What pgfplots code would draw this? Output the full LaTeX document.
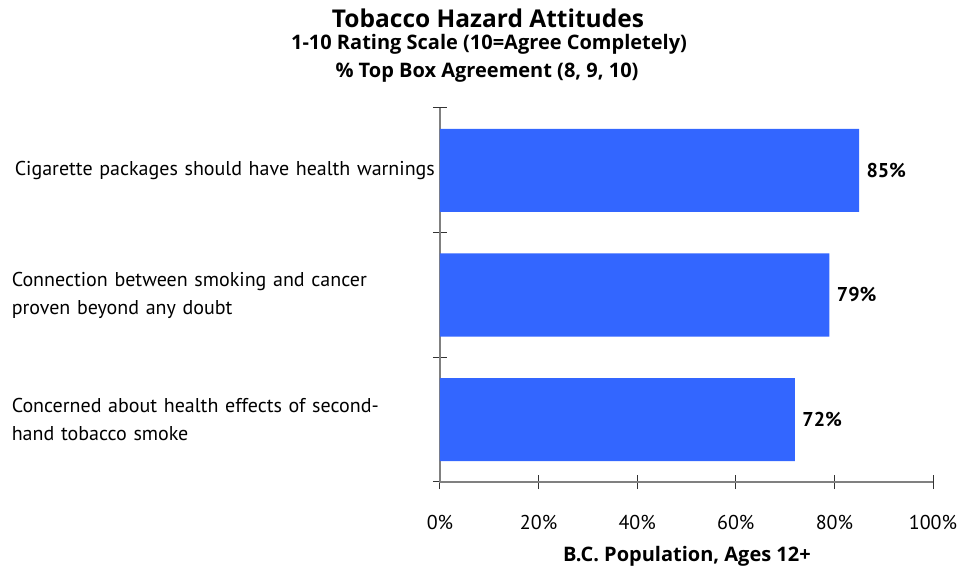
\documentclass[border=0pt]{standalone}
\usepackage{pgfplots}
\pgfplotsset{compat=1.18}
\usepackage{fontspec}
\setmainfont{PT Sans}
\newfontfamily\headfont{Open Sans}
\definecolor{barblue}{HTML}{3366FF}
\definecolor{axisgray}{HTML}{808080}

\begin{document}
\begin{tikzpicture}
\useasboundingbox (-440bp,-87bp) rectangle (521bp,482bp);
\begin{axis}[
  at={(0,0)}, anchor=south west,
  scale only axis,
  width=493bp, height=374bp,
  xmin=0, xmax=100,
  ymin=-0.5, ymax=2.5,
  axis line style={draw=none},
  xtick pos=left, ytick pos=left,
  xtick={0,20,40,60,80,100},
  xticklabels={0\%,20\%,40\%,60\%,80\%,100\%},
  xticklabel style={anchor=base, yshift=-33bp, font=\fontsize{20bp}{24bp}\selectfont},
  % ticks straddle the axis lines
  tick align=outside,
  major tick length=14bp,
  x tick style={draw=black!80, line width=1bp, yshift=7bp},
  y tick style={draw=black!80, line width=1bp, xshift=7bp},
  % category boundaries carry the y ticks
  ytick={-0.5,0.5,1.5,2.5},
  yticklabels={},
  % category names sit between them, without tick marks
  extra y ticks={0,1,2},
  extra y tick labels={
    {Concerned about health effects of second-\\hand tobacco smoke},
    {Connection between smoking and cancer\\proven beyond any doubt},
    {\hspace*{3bp}Cigarette packages should have health warnings}},
  extra y tick style={major tick length=0pt,
    yticklabel style={text width=445bp, inner xsep=0pt, align=left, anchor=east,
      xshift=17bp, font=\fontsize{20bp}{28bp}\selectfont}},
  /pgf/number format/assume math mode=true,
  clip=false,
  xbar, bar width=83bp,
  nodes near coords={\pgfmathprintnumber{\pgfplotspointmeta}\%},
  nodes near coords style={anchor=west, xshift=4bp, font=\bfseries\fontsize{20bp}{24bp}\selectfont, black},
]
% left and bottom axis lines only
\draw[axisgray, line width=1.2bp] (rel axis cs:0,1) -- (rel axis cs:0,0) -- (rel axis cs:1,0);
\addplot[fill=barblue, draw=none] coordinates {(72,0) (79,1) (85,2)};
\end{axis}
% titles
\node[anchor=base, font=\headfont\bfseries\fontsize{24.5bp}{26bp}\selectfont] at (48bp,454bp) {Tobacco Hazard Attitudes};
\node[anchor=base, font=\headfont\bfseries\fontsize{20bp}{22bp}\selectfont] at (49bp,432bp) {1-10 Rating Scale (10=Agree Completely)};
\node[anchor=base, font=\headfont\bfseries\fontsize{20bp}{22bp}\selectfont] at (47bp,404bp) {\% Top Box Agreement (8, 9, 10)};
\node[anchor=base, font=\headfont\bfseries\fontsize{20bp}{24bp}\selectfont] at (247bp,-79bp) {B.C. Population, Ages 12+};
\end{tikzpicture}
\end{document}
